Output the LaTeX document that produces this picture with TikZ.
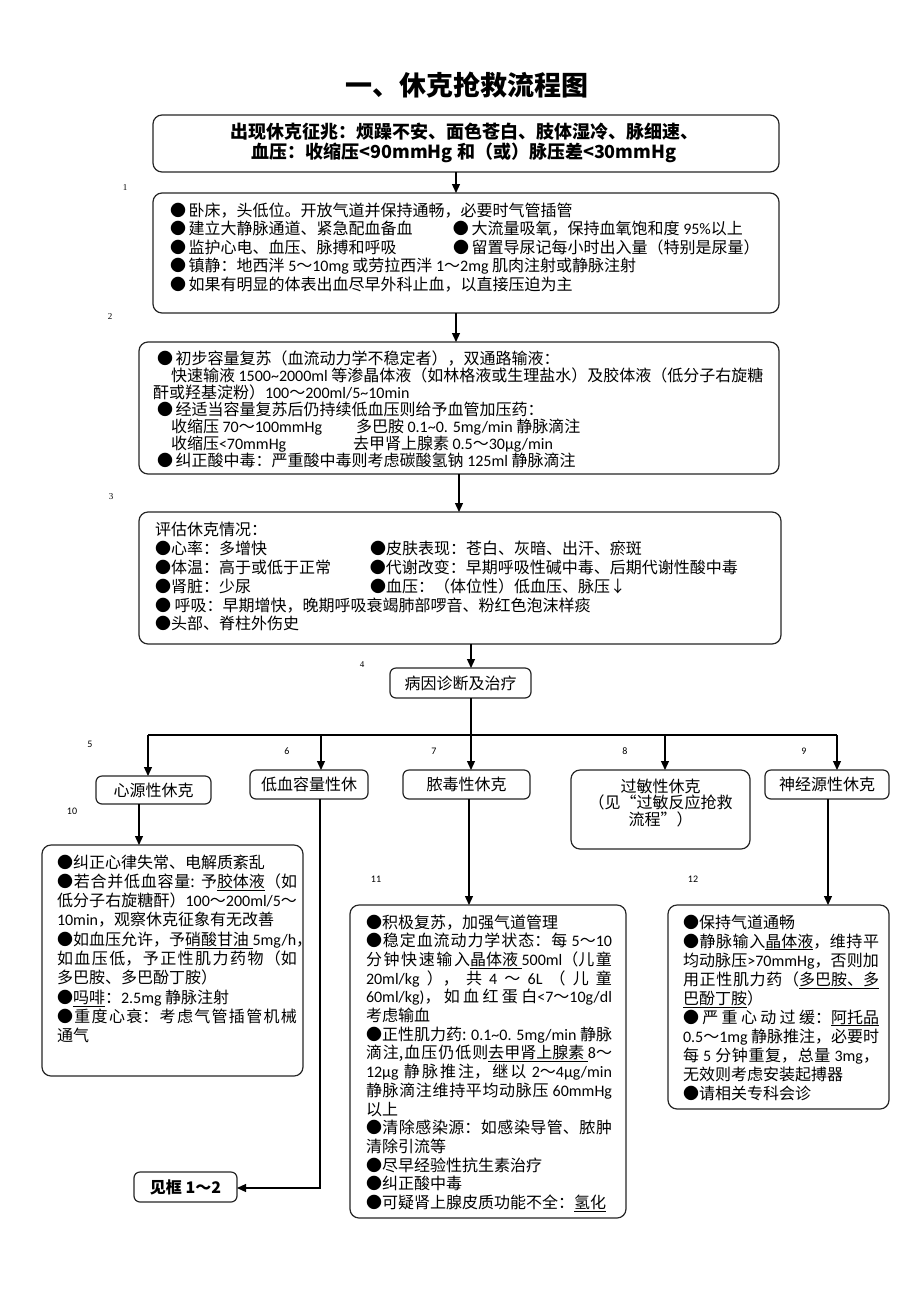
\documentclass[tikz,border=0pt]{standalone}
\usepackage{fontspec}
\setmainfont{Noto Sans CJK SC}
\newfontfamily\numf{Liberation Serif}
\newfontfamily\enf{Carlito}
\usetikzlibrary{arrows.meta}
\XeTeXlinebreaklocale "zh"
\XeTeXlinebreakskip=0pt plus 2pt
\newcommand\tld{\textasciitilde}
\newcommand\en[1]{\hbox{\enf #1}}
\newcommand\uln[1]{\underline{#1}}
\newcommand\jline[2]{\vbox{\hsize=#1\relax\parindent=0pt\leftskip=0pt\rightskip=0pt\parfillskip=0pt\tolerance=10000\XeTeXlinebreakpenalty=10000\relax\noindent#2\par}}
\newcommand\jA[1]{\jline{240pt}{#1}}
\newcommand\jB[1]{\jline{246pt}{#1}}
\newcommand\jC[1]{\jline{196pt}{#1}}
\begin{document}
\begin{tikzpicture}[x=1pt,y=-1pt,
 box/.style={draw=black!85, line width=1.2pt, rounded corners=9pt, inner sep=0pt, outer sep=0pt, anchor=north west},
 sbox/.style={box, rounded corners=6pt},
 txt/.style={inner sep=0pt, outer sep=0pt, anchor=north west, align=left},
 arr/.style={draw=black, line width=1.2pt, -{Triangle[length=9pt,width=8pt]}},
 ln/.style={draw=black, line width=1.2pt},
 lab/.style={font=\numf\fontsize{9}{9}\selectfont, inner sep=0pt},
 labs/.style={font=\enf\fontsize{10}{10}\selectfont, inner sep=0pt}]
\fill[white] (0,0) rectangle (920,1302);
\useasboundingbox (0,0) rectangle (920,1302);

\node[font=\bfseries\fontsize{27}{27}\selectfont] (title) at (467,85) {一、休克抢救流程图};

% top box
\node[box, minimum width=626pt, minimum height=57pt] (A) at (153,115) {};
\node[font=\bfseries\fontsize{18}{19.5}\selectfont, align=center, inner sep=0pt] (At) at (464,143) {出现休克征兆：烦躁不安、面色苍白、肢体湿冷、脉细速、\\血压：收缩压<90mmHg 和（或）脉压差<30mmHg};

% box 1
\node[box, minimum width=626pt, minimum height=120pt] (B) at (153,193) {};
\node[txt, font=\fontsize{16}{18.5}\selectfont] (Bt) at (170,202.5) {%
●\,卧床，头低位。开放气道并保持通畅，必要时气管插管\\
\makebox[283pt][l]{●\,建立大静脉通道、紧急配血备血}●\,大流量吸氧，保持血氧饱和度 \en{95\%}以上\\
\makebox[283pt][l]{●\,监护心电、血压、脉搏和呼吸}●\,留置导尿记每小时出入量（特别是尿量）\\
●\,镇静：地西泮 \en{5}～\en{10mg} 或劳拉西泮 \en{1}～\en{2mg} 肌肉注射或静脉注射\\
●\,如果有明显的体表出血尽早外科止血，以直接压迫为主};

% box 2
\node[box, minimum width=640pt, minimum height=132pt] (C) at (139,342) {};
\node[txt, font=\fontsize{16}{17}\selectfont] (Ct) at (153,350.5) {%
\hspace*{4pt}●\,初步容量复苏（血流动力学不稳定者），双通路输液：\\
\hspace*{18pt}快速输液 \en{1500\tld2000ml} 等渗晶体液（如林格液或生理盐水）及胶体液（低分子右旋糖\\
酐或羟基淀粉）\en{100}～\en{200ml/5\tld10min}\\
\hspace*{4pt}●\,经适当容量复苏后仍持续低血压则给予血管加压药：\\
\hspace*{18pt}\makebox[185pt][l]{收缩压 \en{70}～\en{100mmHg}}多巴胺 \en{0.1\tld0. 5mg/min} 静脉滴注\\
\hspace*{18pt}\makebox[182pt][l]{收缩压\en{<70mmHg}}去甲肾上腺素 \en{0.5}～\en{30μg/min}\\
\hspace*{4pt}●\,纠正酸中毒：严重酸中毒则考虑碳酸氢钠 \en{125ml} 静脉滴注};

% box 3
\node[box, minimum width=642pt, minimum height=132pt] (D) at (139,512) {};
\node[txt, font=\fontsize{16}{18.8}\selectfont] (Dt) at (155,522.5) {%
评估休克情况：\\
\makebox[215pt][l]{●心率：多增快}●皮肤表现：苍白、灰暗、出汗、瘀斑\\
\makebox[215pt][l]{●体温：高于或低于正常}●代谢改变：早期呼吸性碱中毒、后期代谢性酸中毒\\
\makebox[215pt][l]{●肾脏：少尿}●血压：（体位性）低血压、脉压↓\\
●\ 呼吸：早期增快，晚期呼吸衰竭肺部啰音、粉红色泡沫样痰\\
●头部、脊柱外伤史};

% box 4
\node[sbox, minimum width=141pt, minimum height=30pt] (E) at (390,668) {};
\node[font=\fontsize{16}{16}\selectfont, inner sep=0pt] (Et) at (E.center) {病因诊断及治疗};

% arrows top part
\coordinate (xa) at (456,0);
\coordinate (xc) at (459,0);
\coordinate (xd) at (471,0);
\draw[arr] (A.south -| xa) -- (B.north -| xa);
\draw[arr] (B.south -| xa) -- (C.north -| xa);
\draw[arr] (C.south -| xc) -- (D.north -| xc);
\draw[arr] (D.south -| xd) -- (E.north -| xd);

% row of shock types
\node[sbox, minimum width=115pt, minimum height=28pt] (F1) at (96,776) {};
\node[sbox, minimum width=118pt, minimum height=29pt] (F2) at (250,770) {};
\node[sbox, minimum width=127pt, minimum height=29pt] (F3) at (403,770) {};
\node[box, minimum width=179pt, minimum height=79pt] (F4) at (571,770) {};
\node[sbox, minimum width=124pt, minimum height=29pt] (F5) at (765,770) {};
\begin{scope}[every node/.style={font=\fontsize{16}{16.5}\selectfont, inner sep=0pt, align=center}]
\node (F1t) at (F1.center) {心源性休克};
\node (F2t) at (F2.center) {低血容量性休};
\node (F3t) at (F3.center) {脓毒性休克};
\node (F4t) at (660.5,803) {过敏性休克\\（见“过敏反应抢救\\流程”）};
\node (F5t) at (F5.center) {神经源性休克};
\end{scope}

\coordinate (h) at (471,735);
\coordinate (hl) at (148,735);
\coordinate (h2) at (321,735);
\coordinate (h4) at (665,735);
\coordinate (hr) at (837,735);
\draw[ln] (E.south -| h) -- (h);
\draw[ln] (hl) -- (hr);
\draw[arr] (hl) -- (F1.north -| hl);
\draw[arr] (h2) -- (F2.north -| h2);
\draw[arr] (h) -- (F3.north -| h);
\draw[arr] (h4) -- (F4.north -| h4);
\draw[arr] (hr) -- (F5.north -| hr);

% bottom boxes
\node[box, minimum width=261pt, minimum height=231pt] (G1) at (42,845) {};
\node[box, minimum width=276pt, minimum height=313pt] (G2) at (350,905) {};
\node[box, minimum width=221pt, minimum height=204pt] (G3) at (668,905) {};
\node[sbox, minimum width=103pt, minimum height=30pt] (H) at (134,1172) {};
\node[font=\bfseries\fontsize{16}{16}\selectfont, inner sep=0pt] (Ht) at (H.center) {见框 1～2};

\node[txt, font=\fontsize{16}{19.3}\selectfont] (G1t) at (57,854.5) {%
●纠正心律失常、电解质紊乱\\
\jA{●若合并低血容量: 予\uln{胶体液}（如}\\
\jA{低分子右旋糖酐）\en{100}～\en{200ml/5}～}\\
\en{10min}，观察休克征象有无改善\\
\jA{●如血压允许，予\uln{硝酸甘油 }\en{5mg/h}，}\\
\jA{如血压低，予正性肌力药物（如}\\
多巴胺、多巴酚丁胺）\\
●\uln{吗啡}：\en{2.5mg} 静脉注射\\
\jA{●重度心衰：考虑气管插管机械}\\
通气};

\node[txt, font=\fontsize{16}{18.7}\selectfont] (G2t) at (366,914.5) {%
●积极复苏，加强气道管理\\
\jB{●稳定血流动力学状态：每 \en{5}～\en{10}}\\
\jB{分钟快速输入\uln{晶体液 }\en{500ml}（儿童}\\
\jB{\en{20ml/kg} ）， 共 \en{4} ～ \en{6L} （ 儿 童}\\
\jB{\en{60ml/kg)}，如血红蛋白\en{<7}～\en{10g/dl}}\\
考虑输血\\
\jB{●正性肌力药: \en{0.1\tld0. 5mg/min} 静脉}\\
\jB{滴注,血压仍低则\uln{去甲肾上腺素 }\en{8}～}\\
\jB{\en{12μg} 静脉推注，继以 \en{2}～\en{4μg/min}}\\
\jB{静脉滴注维持平均动脉压 \en{60mmHg}}\\
以上\\
\jB{●清除感染源：如感染导管、脓肿}\\
清除引流等\\
●尽早经验性抗生素治疗\\
●纠正酸中毒\\
●可疑肾上腺皮质功能不全：\uln{氢化}};

\node[txt, font=\fontsize{16}{19}\selectfont] (G3t) at (683,914.5) {%
●保持气道通畅\\
\jC{●静脉输入\uln{晶体液}，维持平}\\
\jC{均动脉压\en{>70mmHg}，否则加}\\
\jC{用正性肌力药（\uln{多巴胺、多}}\\
\uln{巴酚丁胺}）\\
\jC{●严重心动过缓：\uln{阿托品}}\\
\jC{\en{0.5}～\en{1mg} 静脉推注，必要时}\\
\jC{每 \en{5} 分钟重复，总量 \en{3mg}，}\\
无效则考虑安装起搏器\\
●请相关专科会诊};

% bottom connectors
\coordinate (v1) at (139,0);
\coordinate (v2) at (320,1188);
\coordinate (v3) at (469,0);
\coordinate (v5) at (828,0);
\draw[arr] (F1.south -| v1) -- (G1.north -| v1);
\draw[arr] (F2.south -| v2) -- (v2) -- (H.east |- v2);
\draw[arr] (F3.south -| v3) -- (G2.north -| v3);
\draw[arr] (F5.south -| v5) -- (G3.north -| v5);

% small number labels
\node[lab] (l1) at (125,188) {1};
\node[lab] (l2) at (110,317) {2};
\node[lab] (l3) at (111,497) {3};
\node[lab] (l4) at (362,665) {4};
\node[labs] (l5) at (90,744) {5};
\node[labs] (l6) at (287,751) {6};
\node[labs] (l7) at (434,751) {7};
\node[labs] (l8) at (625,751) {8};
\node[labs] (l9) at (804,751) {9};
\node[labs] (l10) at (72,811) {10};
\node[labs] (l11) at (376,879) {11};
\node[labs] (l12) at (693,879) {12};
\end{tikzpicture}
\end{document}
